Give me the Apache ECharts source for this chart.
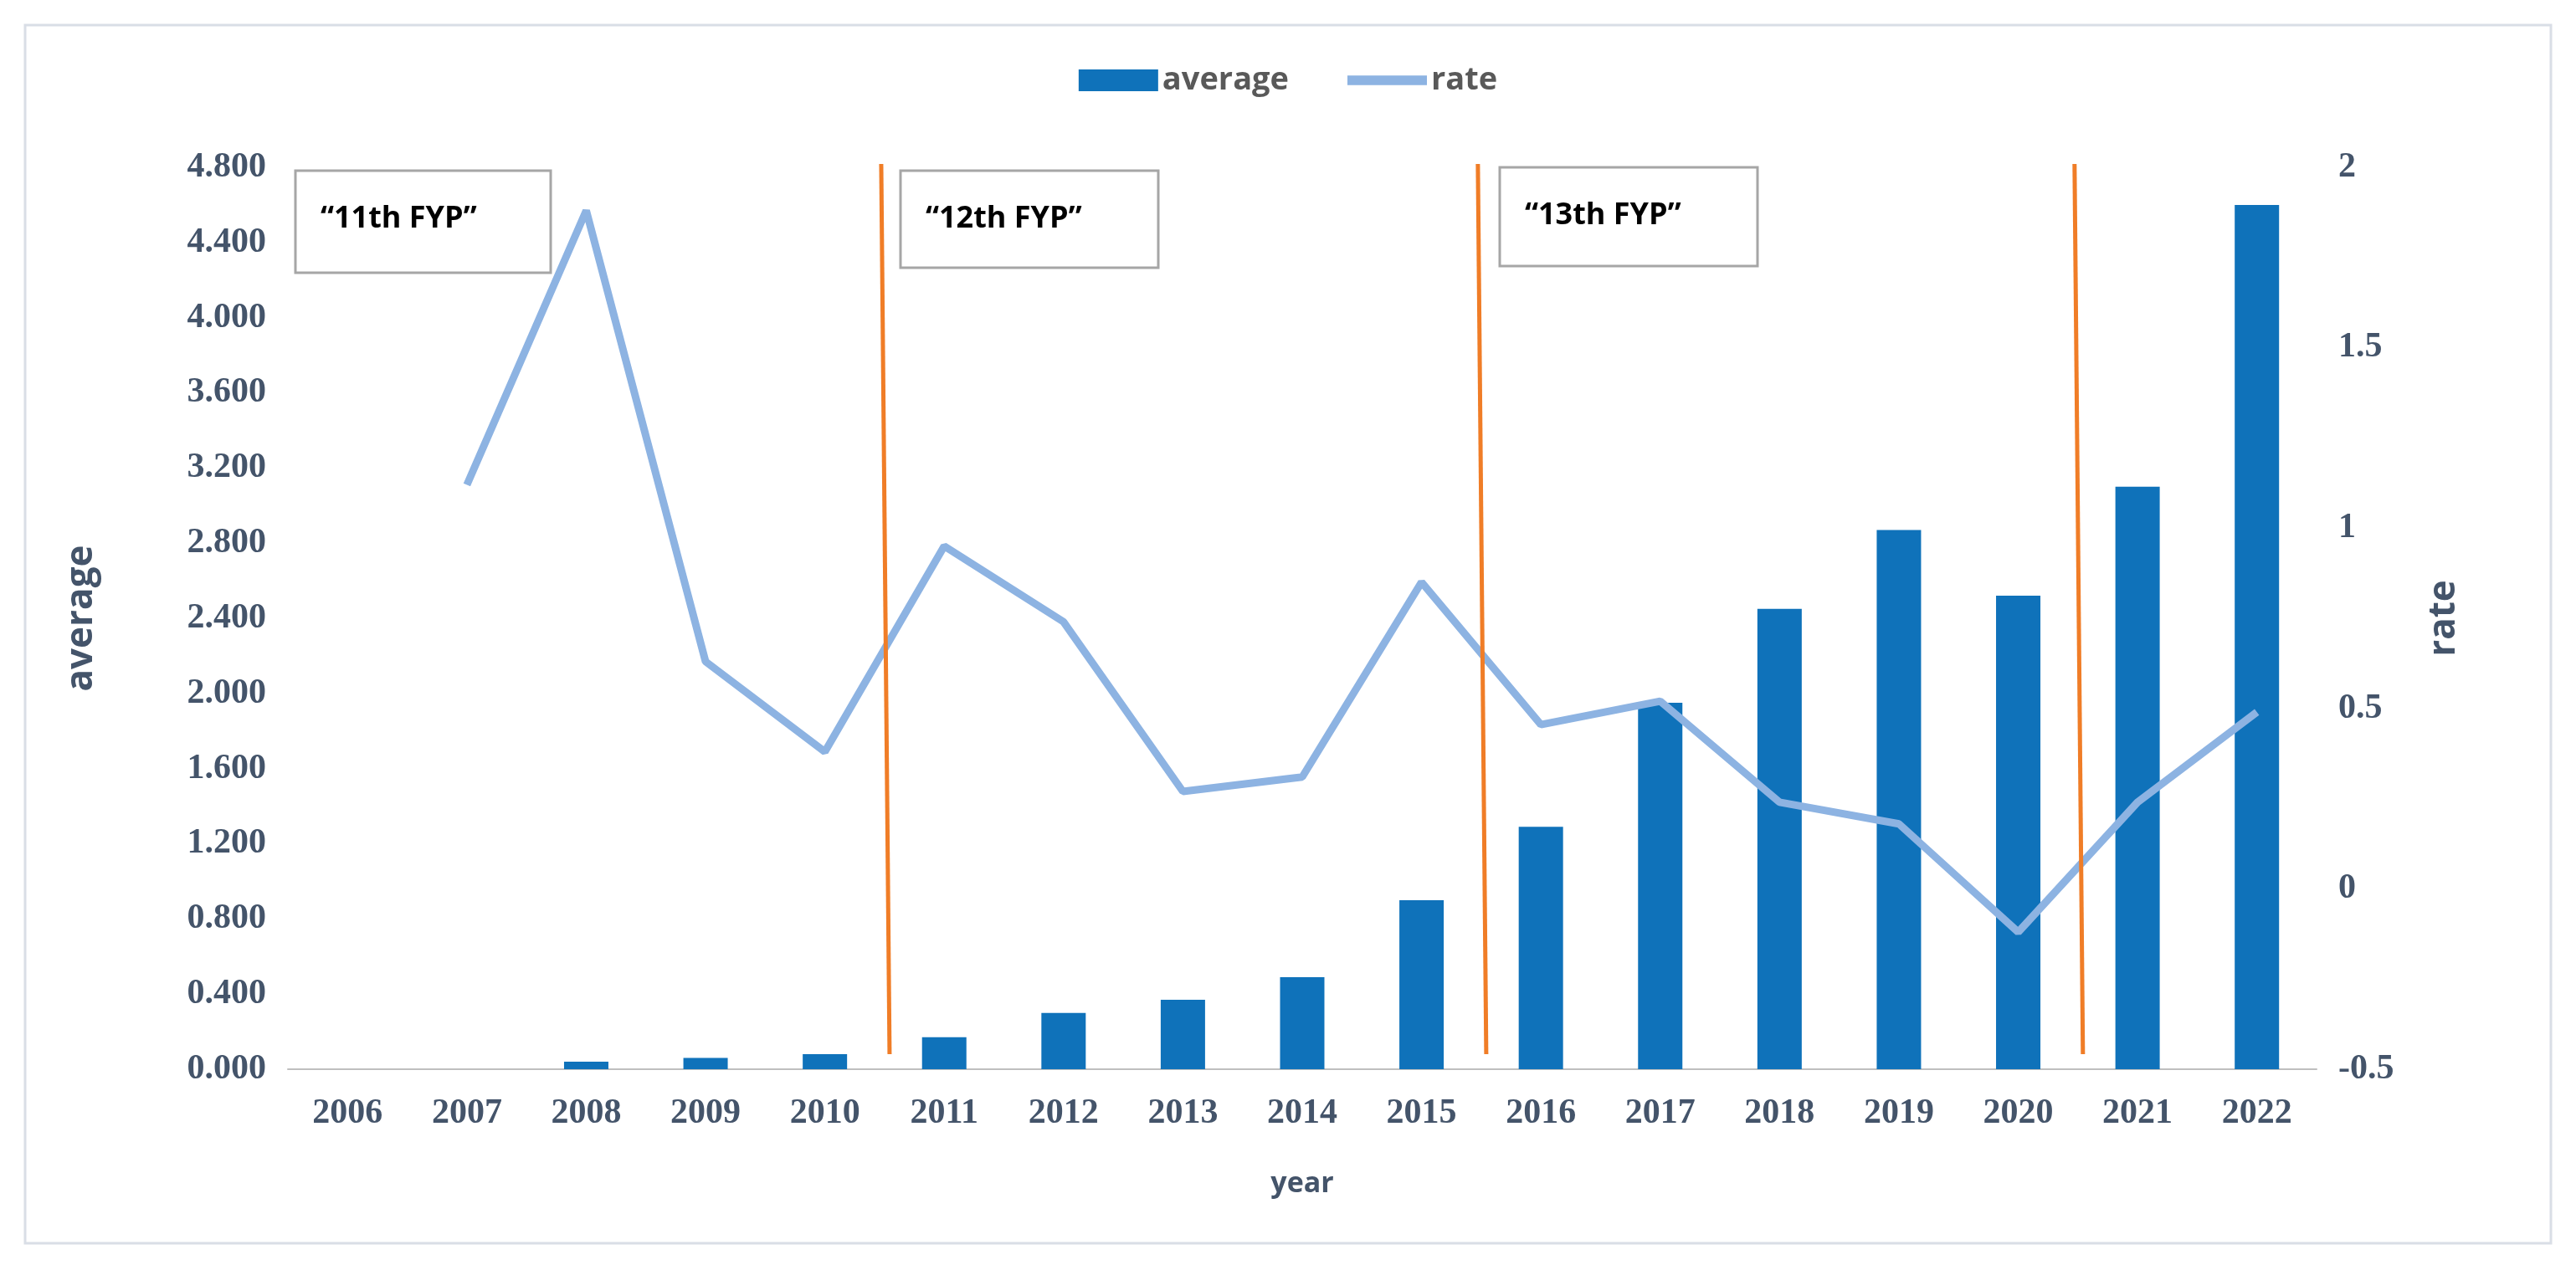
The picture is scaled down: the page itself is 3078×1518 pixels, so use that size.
<!DOCTYPE html>
<html>
<head>
<meta charset="utf-8">
<script src="https://cdn.jsdelivr.net/npm/echarts@6/dist/echarts.min.js"></script>
<style>
html,body{margin:0;padding:0;background:#fff;}
#chart{width:3078px;height:1518px;}
</style>
</head>
<body>
<div id="chart"></div>
<script>
var years = ['2006','2007','2008','2009','2010','2011','2012','2013','2014','2015','2016','2017','2018','2019','2020','2021','2022'];
var average = [0, 0, 0.04, 0.06, 0.08, 0.17, 0.30, 0.37, 0.49, 0.90, 1.29, 1.95, 2.45, 2.87, 2.52, 3.10, 4.60];
var rate = [null, 1.12, 1.88, 0.63, 0.38, 0.95, 0.74, 0.27, 0.31, 0.85, 0.455, 0.52, 0.24, 0.18, -0.12, 0.24, 0.49];
// period boundaries sit right after these years
var periodEnds = ['2010', '2015', '2020'];
var periodNames = ['“11th FYP”', '“12th FYP”', '“13th FYP”'];

var axisColor = '#44546a';
var chart = echarts.init(document.getElementById('chart'));

var labelBoxes = [[353, 204, 305, 122], [1076, 204, 308, 116], [1792, 200, 308, 118]];
var graphics = [{
	type: 'rect', shape: {x: 30, y: 30, width: 3018, height: 1456},
	style: {fill: 'none', stroke: '#d9dee6', lineWidth: 3}
}];
for (let i = 0; i < periodNames.length; i++) {
	let b = labelBoxes[i];
	graphics.push({
		type: 'rect', shape: {x: b[0], y: b[1], width: b[2], height: b[3]},
		style: {fill: '#fff', stroke: '#a6a6a6', lineWidth: 3}, z: 100
	});
	graphics.push({
		type: 'text', x: b[0] + 30, y: b[1] + 40, z: 101,
		style: {text: periodNames[i], font: 'bold 36px "Open Sans", sans-serif', fill: '#000'}
	});
}

var tickFont = {fontSize: 42, fontWeight: 'bold', color: axisColor, fontFamily: 'Times New Roman, Liberation Serif'};

var option = {
	animation: false,
	backgroundColor: '#fff',
	graphic: graphics,
	legend: {
		top: 72, left: 'center', itemWidth: 95, itemHeight: 26, itemGap: 70,
		textStyle: {fontSize: 38, fontWeight: 'bold', color: '#595959', fontFamily: 'Open Sans'},
		data: [{name: 'average', icon: 'rect'}, {name: 'rate', icon: 'path://M0,0H10V1.2H0Z'}]
	},
	grid: {left: 344, right: 310, top: 200, bottom: 240},
	xAxis: {
		type: 'category', data: years,
		name: 'year', nameLocation: 'middle', nameGap: 120,
		nameTextStyle: {fontSize: 34, fontWeight: 'bold', color: axisColor, fontFamily: 'Open Sans'},
		axisTick: {show: false},
		axisLine: {lineStyle: {color: '#bfbfbf', width: 2}},
		axisLabel: Object.assign({margin: 32}, tickFont)
	},
	yAxis: [{
		type: 'value', min: 0, max: 4.8, interval: 0.4,
		name: 'average', nameLocation: 'middle', nameGap: 225, nameRotate: 90,
		nameTextStyle: {fontSize: 44, fontWeight: 'bold', color: axisColor, fontFamily: 'Open Sans'},
		splitLine: {show: false}, axisLine: {show: false}, axisTick: {show: false},
		axisLabel: Object.assign({margin: 26, formatter: function(v) { return v.toFixed(3); }}, tickFont)
	}, {
		type: 'value', min: -0.5, max: 2, interval: 0.5,
		name: 'rate', nameLocation: 'middle', nameGap: 130, nameRotate: 90,
		nameTextStyle: {fontSize: 44, fontWeight: 'bold', color: axisColor, fontFamily: 'Open Sans'},
		splitLine: {show: false}, axisLine: {show: false}, axisTick: {show: false},
		axisLabel: Object.assign({margin: 26}, tickFont)
	}],
	series: [{
		name: 'average', type: 'bar', data: average, barWidth: 53,
		itemStyle: {color: '#0f72ba'}
	}, {
		name: 'rate', type: 'line', yAxisIndex: 1, data: rate,
		symbol: 'none', lineStyle: {color: '#8db3e2', width: 9}, itemStyle: {color: '#8db3e2'}
	}, {
		name: 'periods', type: 'custom', z: 5, silent: true,
		data: periodEnds.map(function(y) { return [y, 0]; }),
		encode: {x: 0, y: 1},
		renderItem: function(params, api) {
			let idx = api.value(0);
			let half = api.size([1, 0])[0] / 2;
			let top = api.coord([idx, 4.8]);
			let bottom = api.coord([idx, 0.08]);
			return {
				type: 'line',
				shape: {x1: top[0] + half - 4, y1: top[1] - 4, x2: bottom[0] + half + 6, y2: bottom[1]},
				style: {stroke: '#f07d27', lineWidth: 5}
			};
		}
	}]
};
chart.setOption(option);
</script>
</body>
</html>
